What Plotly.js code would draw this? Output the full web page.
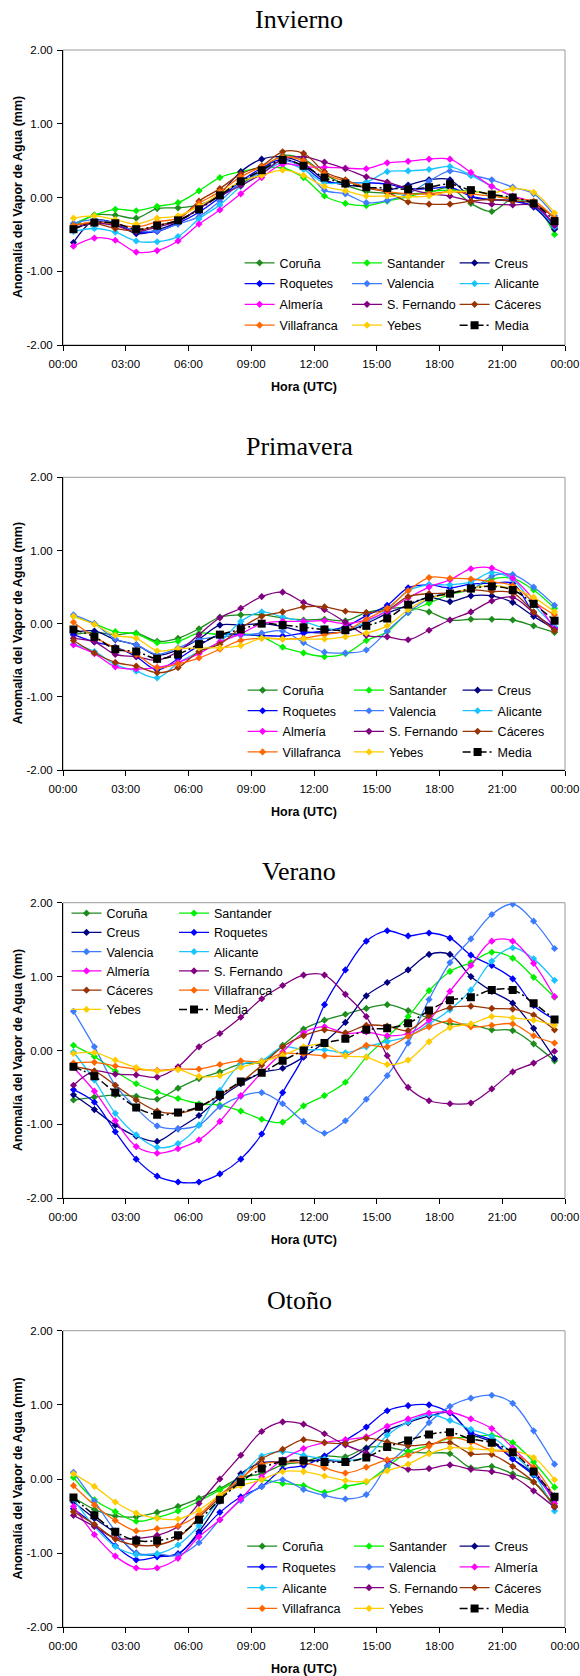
<!DOCTYPE html>
<html>
<head>
<meta charset="utf-8">
<script src="https://cdn.plot.ly/plotly-3.0.1.min.js"></script>
<style>
  html, body { margin: 0; padding: 0; background: #ffffff; }
  #grafico { width: 580px; height: 1676px; }
</style>
</head>
<body>
<div id="grafico"></div>
<script>
// Horas centrales de cada intervalo horario (UTC)
const horas = [0.5, 1.5, 2.5, 3.5, 4.5, 5.5, 6.5, 7.5, 8.5, 9.5, 10.5, 11.5,
               12.5, 13.5, 14.5, 15.5, 16.5, 17.5, 18.5, 19.5, 20.5, 21.5, 22.5, 23.5];

const estaciones = ['Coruña', 'Santander', 'Creus', 'Roquetes', 'Valencia', 'Alicante',
                    'Almería', 'S. Fernando', 'Cáceres', 'Villafranca', 'Yebes', 'Media'];

// Orden de la leyenda (se reparte por filas en columnas)
const ordenLeyenda = ['Coruña', 'Santander', 'Creus', 'Roquetes', 'Valencia', 'Alicante',
                      'Almería', 'S. Fernando', 'Cáceres', 'Villafranca', 'Yebes', 'Media'];
const ordenLeyendaOtono = ['Coruña', 'Santander', 'Creus', 'Roquetes', 'Valencia', 'Almería',
                           'Alicante', 'S. Fernando', 'Cáceres', 'Villafranca', 'Yebes', 'Media'];

const tickHoras = [0, 3, 6, 9, 12, 15, 18, 21, 24];
const tickHorasTexto = ['00:00', '03:00', '06:00', '09:00', '12:00', '15:00', '18:00', '21:00', '00:00'];
const tickAnomalia = [-2, -1, 0, 1, 2];
const tickAnomaliaTexto = ['-2.00', '-1.00', '0.00', '1.00', '2.00'];

// ---- Invierno ----
const invCoruna      = [-0.40,-0.24,-0.24,-0.28,-0.15,-0.14,-0.10,0.02,0.18,0.37,0.57,0.52,0.32,0.17,0.08,0.06,0.05,0.07,0.13,-0.08,-0.19,-0.02,-0.10,-0.42];
const invSantander   = [-0.36,-0.24,-0.16,-0.18,-0.12,-0.07,0.09,0.27,0.35,0.40,0.40,0.27,0.02,-0.08,-0.11,-0.05,0.01,0.08,0.10,0.09,0.04,-0.02,-0.08,-0.50];
const invCreus       = [-0.61,-0.31,-0.35,-0.49,-0.44,-0.33,-0.15,0.05,0.35,0.52,0.55,0.46,0.24,0.17,0.14,0.10,0.17,0.24,0.24,0.01,-0.03,-0.04,-0.13,-0.43];
const invRoquetes    = [-0.43,-0.33,-0.36,-0.47,-0.46,-0.35,-0.20,0.00,0.22,0.40,0.52,0.42,0.22,0.20,0.20,0.18,0.12,0.12,0.14,0.02,-0.03,-0.05,-0.12,-0.40];
const invValencia    = [-0.35,-0.30,-0.35,-0.45,-0.45,-0.36,-0.26,-0.05,0.20,0.35,0.50,0.40,0.10,0.05,-0.07,-0.04,0.05,0.22,0.36,0.30,0.24,0.14,0.05,-0.25];
const invAlicante    = [-0.46,-0.42,-0.47,-0.59,-0.60,-0.53,-0.29,-0.10,0.15,0.33,0.47,0.38,0.20,0.20,0.21,0.35,0.36,0.38,0.42,0.30,0.15,0.01,-0.10,-0.40];
const invAlmeria     = [-0.66,-0.55,-0.58,-0.74,-0.72,-0.59,-0.36,-0.17,0.05,0.27,0.45,0.42,0.41,0.40,0.39,0.47,0.49,0.52,0.52,0.34,0.15,0.02,-0.07,-0.38];
const invSFernando   = [-0.42,-0.35,-0.38,-0.46,-0.40,-0.32,-0.15,0.02,0.16,0.32,0.52,0.55,0.48,0.39,0.28,0.21,0.12,0.05,0.02,-0.05,-0.09,-0.10,-0.11,-0.38];
const invCaceres     = [-0.38,-0.35,-0.42,-0.45,-0.38,-0.30,-0.05,0.12,0.32,0.43,0.62,0.60,0.35,0.24,0.13,0.07,-0.06,-0.09,-0.09,-0.05,-0.03,-0.05,-0.08,-0.28];
const invVillafranca = [-0.38,-0.33,-0.36,-0.40,-0.33,-0.28,-0.08,0.08,0.28,0.42,0.55,0.50,0.32,0.22,0.15,0.08,0.05,0.05,0.08,0.05,0.02,-0.02,-0.05,-0.28];
const invYebes       = [-0.28,-0.25,-0.30,-0.36,-0.28,-0.25,-0.12,0.05,0.22,0.30,0.37,0.30,0.15,0.09,0.02,0.02,0.01,0.02,0.08,0.08,0.06,0.12,0.07,-0.21];
const invMedia       = [-0.43,-0.34,-0.35,-0.43,-0.38,-0.31,-0.16,0.03,0.22,0.37,0.51,0.43,0.27,0.19,0.14,0.13,0.11,0.14,0.18,0.10,0.04,0.00,-0.08,-0.32];

// ---- Primavera ----
const priCoruna      = [-0.15,-0.12,-0.15,-0.13,-0.24,-0.20,-0.07,0.09,0.12,0.12,0.08,0.05,0.06,0.04,0.15,0.20,0.22,0.16,0.05,0.06,0.06,0.05,-0.03,-0.12];
const priSantander   = [0.10,0.00,-0.11,-0.14,-0.26,-0.24,-0.13,-0.15,-0.14,-0.18,-0.32,-0.40,-0.45,-0.41,-0.23,-0.11,0.15,0.28,0.40,0.46,0.61,0.62,0.46,0.21];
const priCreus       = [-0.12,-0.10,-0.22,-0.29,-0.43,-0.36,-0.21,-0.02,-0.02,0.00,-0.04,-0.11,-0.13,-0.11,0.00,0.14,0.25,0.36,0.30,0.38,0.38,0.29,0.10,-0.07];
const priRoquetes    = [-0.15,-0.25,-0.32,-0.45,-0.63,-0.48,-0.30,-0.15,-0.15,-0.16,-0.17,-0.13,-0.10,-0.04,0.11,0.25,0.49,0.53,0.49,0.54,0.55,0.55,0.15,-0.05];
const priValencia    = [0.12,0.00,-0.21,-0.29,-0.42,-0.33,-0.22,-0.18,-0.16,-0.13,-0.10,-0.26,-0.39,-0.40,-0.36,-0.10,0.15,0.34,0.43,0.46,0.65,0.67,0.50,0.25];
const priAlicante    = [-0.28,-0.38,-0.56,-0.65,-0.74,-0.54,-0.38,-0.25,0.03,0.16,0.09,0.03,-0.06,-0.08,0.02,0.19,0.45,0.53,0.53,0.57,0.70,0.60,0.26,-0.04];
const priAlmeria     = [-0.29,-0.41,-0.59,-0.62,-0.60,-0.53,-0.41,-0.25,-0.14,0.00,0.03,0.03,0.04,0.00,0.05,0.17,0.35,0.50,0.60,0.75,0.76,0.62,0.33,-0.07];
const priSFernando   = [-0.20,-0.25,-0.42,-0.45,-0.50,-0.38,-0.15,0.08,0.21,0.37,0.43,0.29,0.19,0.02,-0.16,-0.18,-0.22,-0.09,0.05,0.16,0.31,0.36,0.15,-0.08];
const priCaceres     = [-0.23,-0.40,-0.53,-0.58,-0.67,-0.60,-0.38,-0.28,-0.06,0.10,0.16,0.23,0.23,0.17,0.15,0.19,0.37,0.41,0.42,0.46,0.44,0.42,0.16,-0.10];
const priVillafranca = [0.02,-0.18,-0.33,-0.42,-0.60,-0.55,-0.47,-0.35,-0.23,-0.20,-0.21,-0.20,-0.15,-0.10,0.06,0.21,0.45,0.63,0.62,0.61,0.57,0.52,0.30,0.12];
const priYebes       = [0.10,-0.01,-0.16,-0.20,-0.37,-0.34,-0.33,-0.33,-0.30,-0.20,-0.21,-0.21,-0.21,-0.18,-0.13,-0.03,0.19,0.35,0.41,0.48,0.52,0.48,0.36,0.16];
const priMedia       = [-0.08,-0.18,-0.35,-0.38,-0.48,-0.42,-0.28,-0.15,-0.08,0.00,-0.02,-0.05,-0.08,-0.09,-0.03,0.07,0.26,0.36,0.41,0.48,0.51,0.46,0.27,0.04];

// ---- Verano ----
const verCoruna      = [-0.67,-0.63,-0.60,-0.62,-0.66,-0.51,-0.38,-0.29,-0.18,-0.16,0.07,0.29,0.41,0.49,0.57,0.62,0.54,0.44,0.36,0.35,0.28,0.27,0.09,-0.14];
const verSantander   = [0.07,-0.08,-0.28,-0.45,-0.56,-0.65,-0.72,-0.74,-0.82,-0.93,-0.97,-0.75,-0.61,-0.43,-0.09,0.18,0.46,0.81,1.07,1.19,1.33,1.25,0.99,0.72];
const verCreus       = [-0.60,-0.80,-1.01,-1.16,-1.23,-1.06,-0.88,-0.64,-0.45,-0.30,-0.24,-0.09,0.11,0.38,0.74,0.92,1.09,1.30,1.30,1.00,0.80,0.64,0.30,-0.11];
const verRoquetes    = [-0.53,-0.70,-1.10,-1.47,-1.70,-1.78,-1.78,-1.67,-1.47,-1.13,-0.57,-0.08,0.62,1.09,1.48,1.62,1.55,1.59,1.52,1.29,1.15,0.97,0.61,0.42];
const verValencia    = [0.53,0.05,-0.47,-0.78,-1.02,-1.06,-1.01,-0.76,-0.62,-0.57,-0.72,-0.96,-1.12,-0.95,-0.66,-0.34,0.10,0.69,1.19,1.51,1.84,1.98,1.75,1.38];
const verAlicante    = [-0.02,-0.40,-0.85,-1.14,-1.31,-1.26,-1.01,-0.54,-0.19,-0.14,0.05,0.01,0.01,-0.03,0.05,0.12,0.19,0.36,0.55,0.82,1.21,1.39,1.24,0.95];
const verAlmeria     = [-0.23,-0.55,-0.95,-1.30,-1.39,-1.33,-1.21,-0.96,-0.61,-0.30,-0.02,0.24,0.32,0.23,0.25,0.20,0.23,0.41,0.80,1.15,1.48,1.48,1.18,0.73];
const verSFernando   = [-0.47,-0.28,-0.32,-0.33,-0.36,-0.22,0.05,0.23,0.45,0.70,0.88,1.02,1.02,0.76,0.46,-0.07,-0.50,-0.68,-0.72,-0.71,-0.52,-0.29,-0.17,-0.01];
const verCaceres     = [-0.22,-0.28,-0.47,-0.67,-0.82,-0.85,-0.77,-0.60,-0.43,-0.20,0.05,0.20,0.28,0.24,0.34,0.33,0.27,0.47,0.58,0.60,0.57,0.56,0.48,0.28];
const verVillafranca = [-0.17,-0.16,-0.21,-0.25,-0.27,-0.25,-0.25,-0.19,-0.14,-0.15,-0.04,-0.05,-0.07,-0.07,0.07,0.05,0.19,0.32,0.40,0.32,0.34,0.36,0.20,0.10];
const verYebes       = [-0.04,-0.03,-0.13,-0.23,-0.28,-0.26,-0.35,-0.34,-0.23,-0.15,-0.07,0.05,0.08,-0.07,-0.09,-0.19,-0.13,0.12,0.31,0.36,0.46,0.44,0.41,0.34];
const verMedia       = [-0.22,-0.35,-0.57,-0.77,-0.87,-0.84,-0.76,-0.60,-0.42,-0.30,-0.14,0.00,0.10,0.16,0.28,0.30,0.37,0.54,0.68,0.72,0.82,0.82,0.64,0.42];

// ---- Otoño ----
const otoCoruna      = [-0.25,-0.41,-0.50,-0.51,-0.45,-0.37,-0.26,-0.13,0.02,0.07,0.19,0.23,0.31,0.30,0.42,0.43,0.37,0.35,0.34,0.15,0.17,0.07,-0.04,-0.36];
const otoSantander   = [0.02,-0.28,-0.44,-0.57,-0.52,-0.43,-0.30,-0.15,-0.02,-0.01,-0.06,-0.09,-0.18,-0.10,-0.04,0.16,0.37,0.45,0.55,0.56,0.59,0.49,0.23,-0.11];
const otoCreus       = [-0.31,-0.53,-0.73,-1.00,-1.03,-1.01,-0.71,-0.30,0.07,0.22,0.23,0.25,0.25,0.25,0.41,0.65,0.76,0.85,0.89,0.61,0.50,0.27,0.07,-0.29];
const otoRoquetes    = [-0.40,-0.62,-0.90,-1.09,-1.05,-1.01,-0.74,-0.45,-0.24,-0.10,0.13,0.18,0.31,0.52,0.70,0.92,0.99,1.00,0.89,0.63,0.52,0.27,0.05,-0.23];
const otoValencia    = [0.09,-0.30,-0.70,-1.00,-1.01,-1.03,-0.86,-0.55,-0.29,-0.10,-0.01,-0.14,-0.22,-0.27,-0.21,0.18,0.45,0.76,0.98,1.09,1.13,1.02,0.65,0.20];
const otoAlicante    = [-0.27,-0.64,-0.91,-1.02,-1.01,-0.89,-0.63,-0.27,0.03,0.31,0.37,0.32,0.27,0.25,0.30,0.59,0.77,0.87,0.79,0.67,0.57,0.34,0.07,-0.43];
const otoAlmeria     = [-0.37,-0.75,-1.04,-1.20,-1.20,-1.07,-0.78,-0.55,-0.27,0.03,0.26,0.41,0.49,0.53,0.57,0.71,0.81,0.89,0.90,0.81,0.68,0.42,0.13,-0.33];
const otoSFernando   = [-0.49,-0.64,-0.80,-0.80,-0.76,-0.64,-0.33,0.00,0.32,0.64,0.77,0.74,0.61,0.46,0.35,0.25,0.13,0.14,0.19,0.13,0.10,0.03,-0.16,-0.38];
const otoCaceres     = [-0.44,-0.61,-0.81,-0.89,-0.89,-0.79,-0.52,-0.25,-0.01,0.27,0.40,0.53,0.49,0.48,0.55,0.50,0.45,0.47,0.49,0.34,0.33,0.17,-0.04,-0.37];
const otoVillafranca = [-0.09,-0.35,-0.56,-0.70,-0.67,-0.63,-0.48,-0.22,0.01,0.20,0.23,0.22,0.15,0.08,0.16,0.26,0.32,0.44,0.56,0.50,0.39,0.35,0.16,-0.24];
const otoYebes       = [0.07,-0.10,-0.31,-0.46,-0.53,-0.54,-0.42,-0.22,-0.09,-0.01,0.10,0.10,0.04,-0.02,-0.03,0.11,0.20,0.34,0.42,0.41,0.39,0.38,0.29,-0.01];
const otoMedia       = [-0.25,-0.49,-0.71,-0.83,-0.83,-0.76,-0.55,-0.28,-0.04,0.14,0.24,0.25,0.23,0.23,0.29,0.43,0.52,0.60,0.63,0.54,0.49,0.36,0.10,-0.24];

// Colores por estación (mismo orden que "estaciones")
const colores = ['#1e8c1e', '#00f000', '#000080', '#0000ff', '#3d7bff', '#19c4ff',
                 '#ff00ff', '#800080', '#993300', '#ff6600', '#ffcc00', '#000000'];

// ---- Geometría de la figura (píxeles) ----
const ANCHO = 580, ALTO = 1676, MIZQ = 63, MDER = 15;
const ANCHO_PLOT = ANCHO - MIZQ - MDER;
const px = v => (v - MIZQ) / ANCHO_PLOT;   // x en coordenadas "paper"
const py = v => 1 - v / ALTO;              // y en coordenadas "paper"

const paneles = [
  { titulo: 'Invierno', arriba: 50, abajo: 345, yTitulo: 19.5,
    series: [invCoruna, invSantander, invCreus, invRoquetes, invValencia, invAlicante,
             invAlmeria, invSFernando, invCaceres, invVillafranca, invYebes, invMedia],
    orden: ordenLeyenda, leyendaArriba: 248.2, leyendaX: [239.6, 347, 454.6], hueco: 1.52 },
  { titulo: 'Primavera', arriba: 477.3, abajo: 770, yTitulo: 446.7,
    series: [priCoruna, priSantander, priCreus, priRoquetes, priValencia, priAlicante,
             priAlmeria, priSFernando, priCaceres, priVillafranca, priYebes, priMedia],
    orden: ordenLeyenda, leyendaArriba: 675.5, leyendaX: [242.6, 349, 457.6], hueco: 1.35 },
  { titulo: 'Verano', arriba: 902.7, abajo: 1198.3, yTitulo: 871.7,
    series: [verCoruna, verSantander, verCreus, verRoquetes, verValencia, verAlicante,
             verAlmeria, verSFernando, verCaceres, verVillafranca, verYebes, verMedia],
    orden: ordenLeyenda, leyendaArriba: 898.5, leyendaX: [66.5, 174], hueco: 0 },
  { titulo: 'Otoño', arriba: 1330.7, abajo: 1627.3, yTitulo: 1300.7,
    series: [otoCoruna, otoSantander, otoCreus, otoRoquetes, otoValencia, otoAlicante,
             otoAlmeria, otoSFernando, otoCaceres, otoVillafranca, otoYebes, otoMedia],
    orden: ordenLeyendaOtono, leyendaArriba: 1531.5, leyendaX: [242.2, 349, 454.6], hueco: 1.52 }
];

const SANS = 'Liberation Sans, Arial, sans-serif';
const SERIF = 'Liberation Serif, Times New Roman, serif';

const trazas = [];
const layout = {
  width: ANCHO, height: ALTO,
  margin: { l: MIZQ, r: MDER, t: 0, b: 0, pad: 0 },
  paper_bgcolor: '#ffffff', plot_bgcolor: '#ffffff',
  showlegend: true,
  font: { family: SANS, size: 12, color: '#000000' },
  annotations: [], shapes: []
};

let nLeyenda = 0;
paneles.forEach((p, i) => {
  const suf = i === 0 ? '' : String(i + 1);
  const nCol = p.leyendaX.length;

  // Una leyenda vertical por columna
  const idsLeyenda = p.leyendaX.map(xc => {
    nLeyenda += 1;
    const id = nLeyenda === 1 ? 'legend' : 'legend' + nLeyenda;
    layout[id] = {
      x: px(xc), y: py(p.leyendaArriba), xanchor: 'left', yanchor: 'top',
      orientation: 'v', bgcolor: 'rgba(0,0,0,0)', borderwidth: 0,
      traceorder: 'grouped', tracegroupgap: p.hueco, itemwidth: 30,
      font: { family: SANS, size: 12.5, color: '#000000' }
    };
    return id;
  });

  estaciones.forEach((nombre, s) => {
    const esMedia = nombre === 'Media';
    const k = p.orden.indexOf(nombre);
    trazas.push({
      type: 'scatter', mode: 'lines+markers',
      x: horas, y: p.series[s], name: nombre,
      xaxis: 'x' + suf, yaxis: 'y' + suf,
      legend: idsLeyenda[k % nCol], legendgroup: p.titulo + '-' + nombre,
      line: { color: colores[s], width: esMedia ? 1.5 : 1.3, shape: 'spline', smoothing: 1,
              dash: esMedia ? '8px,3px,2px,3px' : 'solid' },
      marker: { color: colores[s], symbol: esMedia ? 'square' : 'diamond', size: esMedia ? 8 : 5.5,
                line: { width: 0 } },
      hoverinfo: 'skip'
    });
  });

  layout['xaxis' + suf] = {
    domain: [0, 1], anchor: 'y' + suf, range: [0, 24],
    tickmode: 'array', tickvals: tickHoras, ticktext: tickHorasTexto,
    ticks: 'outside', ticklen: 5, tickwidth: 1, tickcolor: '#000000',
    ticklabelstandoff: 3,
    showline: true, linecolor: '#000000', linewidth: 1,
    showgrid: false, zeroline: false, fixedrange: true,
    tickfont: { family: SANS, size: 11.5, color: '#000000' }
  };
  layout['yaxis' + suf] = {
    domain: [py(p.abajo), py(p.arriba)], anchor: 'x' + suf, range: [-2, 2],
    tickmode: 'array', tickvals: tickAnomalia, ticktext: tickAnomaliaTexto,
    ticks: 'outside', ticklen: 5, tickwidth: 1, tickcolor: '#000000',
    ticklabelstandoff: 2,
    showline: true, linecolor: '#000000', linewidth: 1,
    showgrid: false, zeroline: false, fixedrange: true,
    tickfont: { family: SANS, size: 11.5, color: '#000000' }
  };

  // Marco gris del área de trazado
  layout.shapes.push({
    type: 'rect', xref: 'x' + suf + ' domain', yref: 'y' + suf + ' domain',
    x0: 0, x1: 1, y0: 0, y1: 1, layer: 'below',
    line: { color: '#9a9a9a', width: 1 }
  });

  // Título de la estación del año
  layout.annotations.push({
    text: p.titulo, xref: 'paper', yref: 'paper', x: px(299), y: py(p.yTitulo),
    xanchor: 'center', yanchor: 'middle', showarrow: false,
    font: { family: SERIF, size: 26, color: '#000000' }
  });
  // Título del eje X
  layout.annotations.push({
    text: '<b>Hora (UTC)</b>', xref: 'paper', yref: 'y' + suf + ' domain', x: px(304), y: 0,
    yshift: -41.5, xanchor: 'center', yanchor: 'middle', showarrow: false,
    font: { family: SANS, size: 12.5, color: '#000000' }
  });
  // Título del eje Y
  layout.annotations.push({
    text: '<b>Anomalía del Vapor de Agua (mm)</b>', xref: 'paper', yref: 'y' + suf + ' domain',
    x: px(17.6), y: 0.5, xanchor: 'center', yanchor: 'middle', textangle: -90, showarrow: false,
    font: { family: SANS, size: 12.5, color: '#000000' }
  });
});

Plotly.newPlot('grafico', trazas, layout, { displayModeBar: false, staticPlot: true });
</script>
</body>
</html>
